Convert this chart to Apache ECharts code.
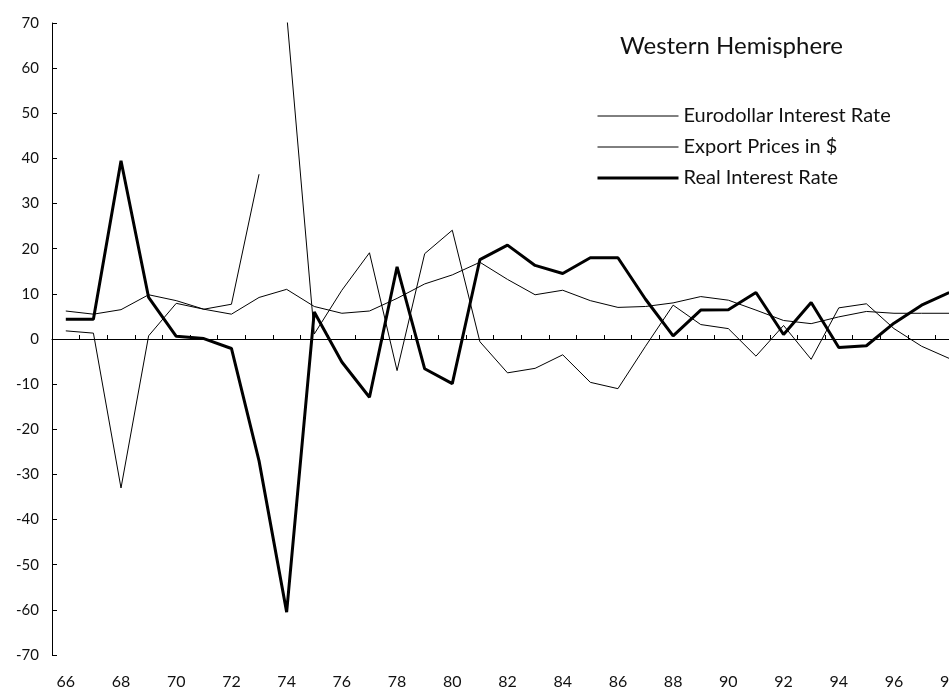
<!DOCTYPE html>
<html>
<head>
<meta charset="utf-8">
<script src="https://cdn.jsdelivr.net/npm/echarts@6/dist/echarts.min.js"></script>
<style>
  html, body { margin: 0; padding: 0; background: #fff; }
  #chart { width: 949px; height: 691px; }
</style>
</head>
<body>
<div id="chart"></div>
<script>
// years 1966 .. 1998, shown as two digits
const years = ['66','67','68','69','70','71','72','73','74','75','76','77','78','79','80','81',
  '82','83','84','85','86','87','88','89','90','91','92','93','94','95','96','97','98'];

const eurodollar = [6.2, 5.5, 6.5, 9.8, 8.5, 6.6, 5.5, 9.2, 11.0, 7.2, 5.7, 6.2, 9.0, 12.2, 14.2, 17.0,
  13.2, 9.8, 10.8, 8.5, 7.0, 7.2, 8.0, 9.4, 8.6, 6.4, 4.1, 3.4, 4.9, 6.1, 5.7, 5.7, 5.7];

const exportPrices = [1.8, 1.3, -33.0, 0.7, 7.9, 6.6, 7.7, 36.5, 72.0, 1.1, 10.8, 19.1, -7.0, 18.9, 24.1, -0.6,
  -7.5, -6.5, -3.5, -9.6, -11.0, -1.6, 7.5, 3.2, 2.3, -3.8, 3.0, -4.5, 6.9, 7.8, 2.3, -1.6, -4.3];

const realRate = [4.4, 4.4, 39.5, 9.2, 0.6, 0.1, -2.1, -27.0, -60.5, 6.0, -5.1, -12.9, 16.0, -6.6, -9.9, 17.6,
  20.8, 16.3, 14.5, 18.0, 18.0, 8.8, 0.7, 6.4, 6.5, 10.3, 1.0, 8.1, -1.9, -1.5, 3.5, 7.5, 10.3];

// the original breaks the export line between 73 and 74
const breakAt = years.indexOf('74');
const exportBefore = exportPrices.map((v, i) => (i < breakAt ? v : null));
const exportAfter = exportPrices.map((v, i) => (i >= breakAt ? v : null));

const font = 'Lato, "Noto Sans", sans-serif';
const ink = '#111';

const chart = echarts.init(document.getElementById('chart'));

function lineSeries(name, data, width) {
  return {
    name: name,
    type: 'line',
    data: data,
    symbol: 'none',
    showSymbol: false,
    connectNulls: false,
    lineStyle: { color: '#000', width: width },
    itemStyle: { color: '#000' },
    emphasis: { disabled: true },
    silent: true
  };
}

const euroSeries = lineSeries('Eurodollar Interest Rate', eurodollar, 1);
euroSeries.markLine = {
  silent: true,
  symbol: ['none', 'none'],
  label: { show: false },
  lineStyle: { color: '#000', width: 1, type: 'solid' },
  emphasis: { disabled: true },
  data: [{ yAxis: 0 }]
};

chart.setOption({
  animation: false,
  backgroundColor: '#fff',
  title: {
    text: 'Western Hemisphere',
    left: 620,
    top: 34,
    padding: 0,
    textStyle: { fontFamily: font, fontSize: 24, fontWeight: 'normal', color: ink }
  },
  legend: {
    orient: 'vertical',
    left: 596,
    top: 106,
    padding: 0,
    itemWidth: 81,
    itemHeight: 14,
    itemGap: 11,
    // hide the marker dot, keep only the line
    itemStyle: { opacity: 0 },
    data: [
      { name: 'Eurodollar Interest Rate', lineStyle: { width: 1, color: '#000' } },
      { name: 'Export Prices in $', lineStyle: { width: 1, color: '#000' } },
      { name: 'Real Interest Rate', lineStyle: { width: 3, color: '#000' } }
    ],
    textStyle: { fontFamily: font, fontSize: 20, color: ink },
    selectedMode: false
  },
  grid: {
    left: 52,
    right: -14,
    top: 23,
    bottom: 36,
    containLabel: false,
    outerBoundsMode: 'none'
  },
  xAxis: {
    type: 'category',
    data: years,
    boundaryGap: true,
    axisLine: { lineStyle: { color: '#000', width: 1 } },
    axisTick: { show: true, inside: true, length: 4, interval: 0, lineStyle: { color: '#000' } },
    axisLabel: { interval: 1, margin: 19, fontFamily: font, fontSize: 16, color: ink },
    splitLine: { show: false }
  },
  yAxis: {
    type: 'value',
    min: -70,
    max: 70,
    interval: 10,
    axisLine: { show: true, lineStyle: { color: '#000', width: 1 } },
    axisTick: { show: true, inside: true, length: 5, lineStyle: { color: '#000' } },
    axisLabel: { margin: 13, fontFamily: font, fontSize: 15, color: ink },
    splitLine: { show: false }
  },
  series: [
    euroSeries,
    lineSeries('Export Prices in $', exportBefore, 1),
    lineSeries('Export Prices in $', exportAfter, 1),
    lineSeries('Real Interest Rate', realRate, 3)
  ]
});
</script>
</body>
</html>
